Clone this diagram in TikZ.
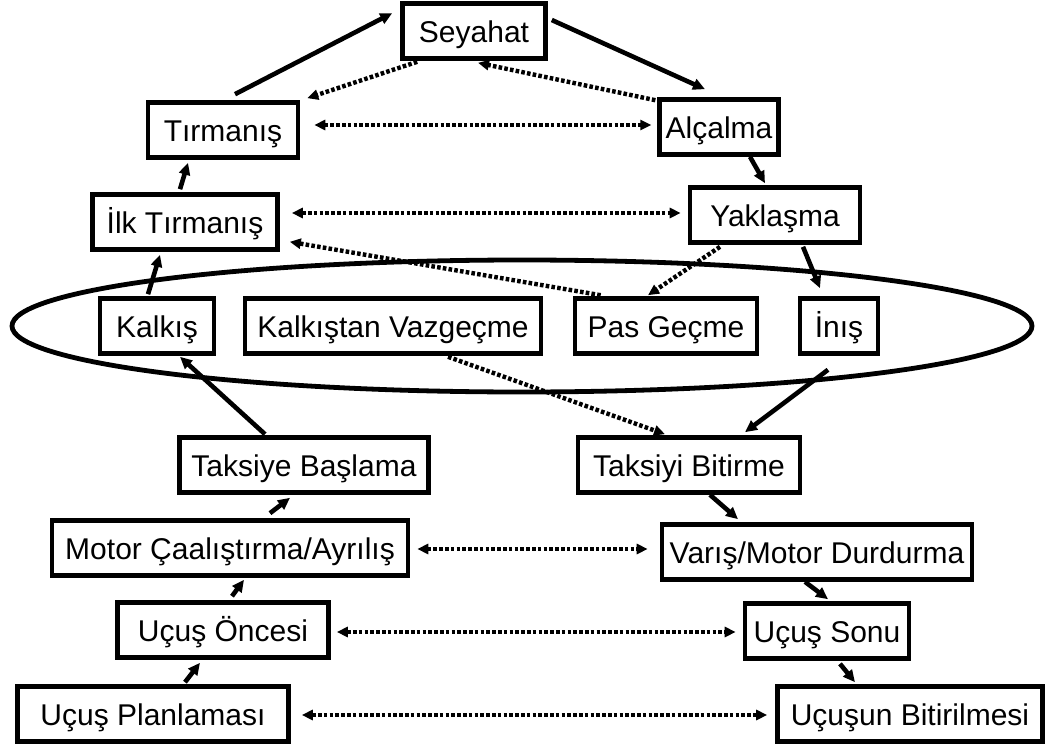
\documentclass[tikz,border=0pt]{standalone}
\usepackage{fontspec}
\setmainfont{Liberation Sans}
\usepackage{tikz}
\usetikzlibrary{arrows.meta,shapes.geometric}

\begin{document}
\begin{tikzpicture}[
  x=0.5pt, y=-0.5pt,
  font=\fontsize{15}{18}\selectfont,
  stagebox/.style={rectangle, draw=black, fill=white, line width=2.3pt,
                   minimum height=27.5pt, inner xsep=3pt, inner ysep=2pt,
                   text height=12pt, text depth=1pt},
  arrow/.style={-{Triangle[length=6pt,width=5.5pt]}, line width=2.3pt},
  dotarrow/.style={-{Triangle[length=5.5pt,width=5pt]}, line width=2.2pt,
                   dash pattern=on 1.8pt off 1.1pt},
  bothdot/.style={dotarrow, {Triangle[length=5.5pt,width=5pt]}-{Triangle[length=5.5pt,width=5pt]}}
]
\useasboundingbox (0,0) rectangle (1046,744);

% --- Ground group (ellipse) ---
\node[ellipse, draw, line width=2.4pt, minimum width=510pt, minimum height=66pt] (ground) at (522,326) {};

% --- Upper stages ---
\node[stagebox, minimum width=71.5pt] (seyahat) at (474,31) {Seyahat};
\node[stagebox, minimum width=75pt] (tirmanis) at (223,130) {Tırmanış};
\node[stagebox, minimum width=57pt] (alcalma) at (719,127) {Alçalma};
\node[stagebox, minimum width=92.5pt] (ilk) at (185,222) {İlk Tırmanış};
\node[stagebox, minimum width=85pt] (yaklasma) at (775,215) {Yaklaşma};

% --- Stages inside the ellipse ---
\node[stagebox, minimum width=57pt] (kalkis) at (157,326) {Kalkış};
\node[stagebox, minimum width=148pt] (vazgecme) at (393,326) {Kalkıştan Vazgeçme};
\node[stagebox, minimum width=91pt] (pasgecme) at (666,326) {Pas Geçme};
\node[stagebox, minimum width=39pt] (inis) at (839,326) {İnış};

% --- Ground stages ---
\node[stagebox, minimum width=124.5pt] (taksibasla) at (304,465) {Taksiye Başlama};
\node[stagebox, minimum width=111pt] (taksibitir) at (689,465) {Taksiyi Bitirme};
\node[stagebox, minimum width=178pt] (motor) at (230,548) {Motor Çaalıştırma/Ayrılış};
\node[stagebox, minimum width=155pt] (varis) at (817,552) {Varış/Motor Durdurma};
\node[stagebox, minimum width=105.5pt] (oncesi) at (223,630) {Uçuş Öncesi};
\node[stagebox, minimum width=82pt] (sonu) at (827,631) {Uçuş Sonu};
\node[stagebox, minimum width=135.5pt] (planlama) at (153,714) {Uçuş Planlaması};
\node[stagebox, minimum width=132.5pt] (bitirme) at (910,714) {Uçuşun Bitirilmesi};

% --- Main flow ---
\draw[arrow] ([shift={(12,-6)}]tirmanis.north) -- ([shift={(-8,12)}]seyahat.north west);
\draw[arrow] ([shift={(4,-11)}]seyahat.east) -- ([shift={(-14,-8)}]alcalma.north);
\draw[arrow] ([shift={(31,0)}]alcalma.south) -- ([shift={(-10,-2)}]yaklasma.north);
\draw[arrow] ([shift={(-5,-3)}]ilk.north) -- ([shift={(-35,3)}]tirmanis.south);
\draw[arrow] ([shift={(28,2)}]yaklasma.south) -- ([shift={(-19,-8)}]inis.north);
\draw[arrow] ([shift={(-9,-2)}]kalkis.north) -- ([shift={(-25,3)}]ilk.south);
\draw[arrow] ([shift={(-39,-1)}]taksibasla.north) -- ([shift={(23,1)}]kalkis.south);
\draw[arrow] ([shift={(-11,14)}]inis.south) -- ([shift={(56,-3)}]taksibitir.north);
\draw[arrow] ([shift={(40,-5)}]motor.north) -- ([shift={(-14,3)}]taksibasla.south);
\draw[arrow] ([shift={(21,0)}]taksibitir.south) -- ([shift={(-79,-3)}]varis.north);
\draw[arrow] ([shift={(9,-4)}]oncesi.north) -- ([shift={(14,2)}]motor.south);
\draw[arrow] ([shift={(-12,0)}]varis.south) -- ([shift={(1,-2)}]sonu.north);
\draw[arrow] ([shift={(32,-2)}]planlama.north) -- ([shift={(-23,3)}]oncesi.south);
\draw[arrow] ([shift={(13,3)}]sonu.south) -- ([shift={(-55,-2)}]bitirme.north);

% --- Dotted links ---
\draw[dotarrow] ([shift={(17,1)}]seyahat.south west) -- ([shift={(7,-2)}]tirmanis.north east);
\draw[dotarrow] ([shift={(-2,3)}]alcalma.north west) -- ([shift={(4,2)}]seyahat.south);
\draw[dotarrow] ([shift={(28,-1)}]pasgecme.north west) -- ([shift={(10,-10)}]ilk.south east);
\draw[dotarrow] ([shift={(-55,2)}]yaklasma.south) -- ([shift={(-18,-1)}]pasgecme.north);
\draw[dotarrow] ([shift={(55,1)}]vazgecme.south) -- ([shift={(-24,-1)}]taksibitir.north);
\draw[bothdot] ([shift={(14,-5)}]tirmanis.east) -- ([shift={(-6,-2)}]alcalma.west);
\draw[bothdot] ([shift={(12,-9)}]ilk.east) -- ([shift={(-7,-2)}]yaklasma.west);
\draw[bothdot] ([shift={(7,1)}]motor.east) -- ([shift={(-12,-3)}]varis.west);
\draw[bothdot] ([shift={(6,2)}]oncesi.east) -- ([shift={(-7,1)}]sonu.west);
\draw[bothdot] ([shift={(11,1)}]planlama.east) -- ([shift={(-8,1)}]bitirme.west);

\end{tikzpicture}
\end{document}
